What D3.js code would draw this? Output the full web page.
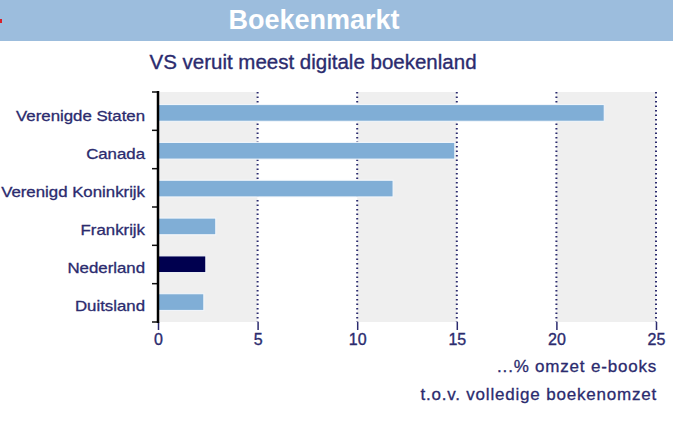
<!DOCTYPE html>
<html>
<head>
<meta charset="utf-8">
<script src="https://cdn.jsdelivr.net/npm/d3@7"></script>
<style>
  body { margin: 0; background: #fff; }
  text { font-family: "Liberation Sans", Arial, sans-serif; }
</style>
</head>
<body>
<div id="chart"></div>
<script>
// data
var countries = ['Verenigde Staten', 'Canada', 'Verenigd Koninkrijk', 'Frankrijk', 'Nederland', 'Duitsland'];
var ebookShare = [22.4, 14.9, 11.8, 2.9, 2.4, 2.3];
var xTicks = [0, 5, 10, 15, 20, 25];
var highlight = 'Nederland';

var W = 673, H = 426;
var navy = '#2b2b6e';

var svg = d3.select('#chart').append('svg')
    .attr('width', W)
    .attr('height', H);

// header band
svg.append('rect')
    .attr('x', 0).attr('y', 0)
    .attr('width', W).attr('height', 41)
    .style('fill', '#9cbddd');
svg.append('rect')
    .attr('x', 0).attr('y', 19)
    .attr('width', 2).attr('height', 4)
    .style('fill', '#d8202a');
svg.append('text')
    .attr('x', 314).attr('y', 29)
    .style('text-anchor', 'middle')
    .style('font-size', '27px')
    .style('font-weight', 'bold')
    .style('fill', '#fff')
    .text('Boekenmarkt');

svg.append('text')
    .attr('x', 313).attr('y', 69)
    .style('text-anchor', 'middle')
    .style('font-size', '20.5px')
    .style('fill', navy)
    .style('stroke', navy)
    .style('stroke-width', 0.35)
    .text('VS veruit meest digitale boekenland');

var plot = { left: 158, right: 656, top: 92, bottom: 322 };

var x = d3.scaleLinear()
    .domain([0, 25])
    .range([plot.left, plot.right]);

var y = d3.scaleBand()
    .domain(countries)
    .range([plot.top + 2, plot.bottom - 1])
    .paddingInner(0.56)
    .paddingOuter(0.28);

// alternating shaded columns
var cols = d3.range(0, 25, 5);
svg.selectAll('.col')
    .data(cols)
    .join('rect')
    .attr('class', 'col')
    .attr('x', function (d) { return x(d); })
    .attr('y', plot.top)
    .attr('width', function (d) { return x(d + 5) - x(d); })
    .attr('height', plot.bottom - plot.top)
    .style('fill', function (d, i) { return i % 2 === 0 ? '#efefef' : '#fff'; });

// dotted gridlines
svg.selectAll('.grid')
    .data(xTicks.slice(1))
    .join('line')
    .attr('class', 'grid')
    .attr('x1', function (d) { return x(d); })
    .attr('x2', function (d) { return x(d); })
    .attr('y1', plot.top)
    .attr('y2', plot.bottom)
    .style('stroke', navy)
    .style('stroke-width', 2)
    .style('stroke-dasharray', '1.5,3');

// bars
svg.selectAll('.bar')
    .data(countries)
    .join('rect')
    .attr('class', 'bar')
    .attr('x', x(0))
    .attr('y', function (d) { return y(d); })
    .attr('width', function (d, i) { return x(ebookShare[i]) - x(0); })
    .attr('height', y.bandwidth())
    .style('fill', function (d) { return d === highlight ? '#00004f' : '#80aed6'; })
    .style('stroke', '#f4f8fc')
    .style('stroke-width', 1);

// x axis
var xAxis = d3.axisBottom(x)
    .tickValues(xTicks)
    .tickSize(8)
    .tickFormat(d3.format('d'));

var gx = svg.append('g')
    .attr('transform', 'translate(0,' + plot.bottom + ')')
    .call(xAxis);
gx.select('.domain').remove();
gx.selectAll('line').style('stroke', navy).style('stroke-width', 1.5);
gx.selectAll('text')
    .attr('dy', 0)
    .attr('y', 23)
    .style('font-size', '16px')
    .style('fill', navy)
    .style('stroke', navy)
    .style('stroke-width', 0.35);

// y axis
var step = (plot.bottom - plot.top) / countries.length;
svg.selectAll('.ytick')
    .data(d3.range(countries.length + 1))
    .join('line')
    .attr('class', 'ytick')
    .attr('x1', plot.left - 6)
    .attr('x2', plot.left)
    .attr('y1', function (d) { return plot.top + d * step; })
    .attr('y2', function (d) { return plot.top + d * step; })
    .style('stroke', '#111')
    .style('stroke-width', 1.5);

svg.append('line')
    .attr('x1', plot.left).attr('x2', plot.left)
    .attr('y1', plot.top - 1).attr('y2', plot.bottom + 1)
    .style('stroke', '#000')
    .style('stroke-width', 2.5);

svg.selectAll('.ylabel')
    .data(countries)
    .join('text')
    .attr('class', 'ylabel')
    .attr('transform', function (d) {
        return 'translate(145,' + (y(d) + y.bandwidth() / 2 + 8.5) + ') scale(1.16,1)';
    })
    .style('text-anchor', 'end')
    .style('font-size', '14.5px')
    .style('fill', navy)
    .style('stroke', navy)
    .style('stroke-width', 0.3)
    .text(function (d) { return d; });

// axis caption
var caption = ['...% omzet e-books', 't.o.v. volledige boekenomzet'];
svg.selectAll('.caption')
    .data(caption)
    .join('text')
    .attr('class', 'caption')
    .attr('x', 657)
    .attr('y', function (d, i) { return 372 + i * 28; })
    .style('text-anchor', 'end')
    .style('font-size', '17px')
    .style('letter-spacing', '0.8px')
    .style('fill', navy)
    .style('stroke', navy)
    .style('stroke-width', 0.3)
    .text(function (d) { return d; });
</script>
</body>
</html>
